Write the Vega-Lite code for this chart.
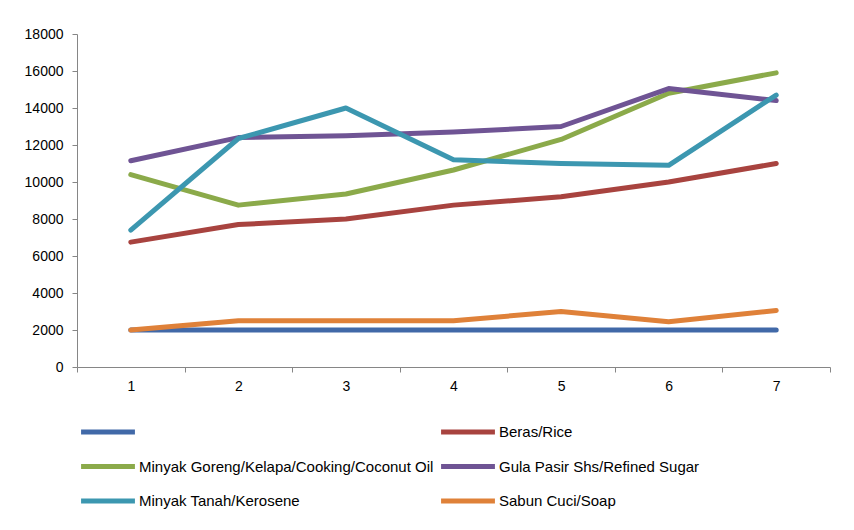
{
  "$schema": "https://vega.github.io/schema/vega-lite/v6.json",
  "autosize": "none",
  "width": 753,
  "height": 333,
  "padding": {"left": 77, "top": 34, "right": 24, "bottom": 163},
  "background": "white",
  "config": {
    "view": {"stroke": null},
    "font": "Liberation Sans"
  },
  "data": {
    "values": [
      {"p": 1, "s": "", "v": 2000},
      {"p": 2, "s": "", "v": 2000},
      {"p": 3, "s": "", "v": 2000},
      {"p": 4, "s": "", "v": 2000},
      {"p": 5, "s": "", "v": 2000},
      {"p": 6, "s": "", "v": 2000},
      {"p": 7, "s": "", "v": 2000},
      {"p": 1, "s": "Beras/Rice", "v": 6750},
      {"p": 2, "s": "Beras/Rice", "v": 7700},
      {"p": 3, "s": "Beras/Rice", "v": 8000},
      {"p": 4, "s": "Beras/Rice", "v": 8750},
      {"p": 5, "s": "Beras/Rice", "v": 9200},
      {"p": 6, "s": "Beras/Rice", "v": 10000},
      {"p": 7, "s": "Beras/Rice", "v": 11000},
      {"p": 1, "s": "Minyak Goreng/Kelapa/Cooking/Coconut  Oil", "v": 10400},
      {"p": 2, "s": "Minyak Goreng/Kelapa/Cooking/Coconut  Oil", "v": 8750},
      {"p": 3, "s": "Minyak Goreng/Kelapa/Cooking/Coconut  Oil", "v": 9350},
      {"p": 4, "s": "Minyak Goreng/Kelapa/Cooking/Coconut  Oil", "v": 10650},
      {"p": 5, "s": "Minyak Goreng/Kelapa/Cooking/Coconut  Oil", "v": 12300},
      {"p": 6, "s": "Minyak Goreng/Kelapa/Cooking/Coconut  Oil", "v": 14800},
      {"p": 7, "s": "Minyak Goreng/Kelapa/Cooking/Coconut  Oil", "v": 15900},
      {"p": 1, "s": "Gula Pasir Shs/Refined Sugar", "v": 11150},
      {"p": 2, "s": "Gula Pasir Shs/Refined Sugar", "v": 12400},
      {"p": 3, "s": "Gula Pasir Shs/Refined Sugar", "v": 12500},
      {"p": 4, "s": "Gula Pasir Shs/Refined Sugar", "v": 12700},
      {"p": 5, "s": "Gula Pasir Shs/Refined Sugar", "v": 13000},
      {"p": 6, "s": "Gula Pasir Shs/Refined Sugar", "v": 15050},
      {"p": 7, "s": "Gula Pasir Shs/Refined Sugar", "v": 14400},
      {"p": 1, "s": "Minyak Tanah/Kerosene", "v": 7400},
      {"p": 2, "s": "Minyak Tanah/Kerosene", "v": 12350},
      {"p": 3, "s": "Minyak Tanah/Kerosene", "v": 14000},
      {"p": 4, "s": "Minyak Tanah/Kerosene", "v": 11200},
      {"p": 5, "s": "Minyak Tanah/Kerosene", "v": 11000},
      {"p": 6, "s": "Minyak Tanah/Kerosene", "v": 10900},
      {"p": 7, "s": "Minyak Tanah/Kerosene", "v": 14700},
      {"p": 1, "s": "Sabun Cuci/Soap", "v": 2000},
      {"p": 2, "s": "Sabun Cuci/Soap", "v": 2500},
      {"p": 3, "s": "Sabun Cuci/Soap", "v": 2500},
      {"p": 4, "s": "Sabun Cuci/Soap", "v": 2500},
      {"p": 5, "s": "Sabun Cuci/Soap", "v": 3000},
      {"p": 6, "s": "Sabun Cuci/Soap", "v": 2450},
      {"p": 7, "s": "Sabun Cuci/Soap", "v": 3050}
    ]
  },
  "mark": {"type": "line", "strokeWidth": 5, "strokeCap": "round", "strokeJoin": "round"},
  "encoding": {
    "x": {
      "field": "p",
      "type": "ordinal",
      "bandPosition": 0.5,
      "scale": {"type": "band", "paddingInner": 0, "paddingOuter": 0},
      "axis": {
        "title": null,
        "labelAngle": 0,
        "tickBand": "extent",
        "domainColor": "#868686",
        "tickColor": "#868686",
        "tickSize": 5,
        "labelPadding": 7,
        "labelFontSize": 14,
        "labelColor": "#000000",
        "grid": false
      }
    },
    "y": {
      "field": "v",
      "type": "quantitative",
      "scale": {"domain": [0, 18000], "nice": false},
      "axis": {
        "title": null,
        "values": [0, 2000, 4000, 6000, 8000, 10000, 12000, 14000, 16000, 18000],
        "format": "d",
        "grid": false,
        "domainColor": "#868686",
        "tickColor": "#868686",
        "tickSize": 5,
        "labelPadding": 9,
        "labelFontSize": 14,
        "labelColor": "#000000"
      }
    },
    "color": {
      "field": "s",
      "type": "nominal",
      "scale": {
        "domain": ["", "Beras/Rice", "Minyak Goreng/Kelapa/Cooking/Coconut  Oil", "Gula Pasir Shs/Refined Sugar", "Minyak Tanah/Kerosene", "Sabun Cuci/Soap"],
        "range": ["#4169A8", "#A8433F", "#8BAA4A", "#6F5494", "#3C97B0", "#DF8139"]
      },
      "legend": {
        "title": null,
        "orient": "none",
        "legendX": 23,
        "legendY": 390,
        "direction": "horizontal",
        "columns": 2,
        "symbolType": "M-5,0H5",
        "symbolSize": 116,
        "symbolStrokeWidth": 5,
        "labelFontSize": 15,
        "labelColor": "#000000",
        "labelOffset": 23,
        "rowPadding": 14.5,
        "columnPadding": -7,
        "labelLimit": 400
      }
    }
  }
}
